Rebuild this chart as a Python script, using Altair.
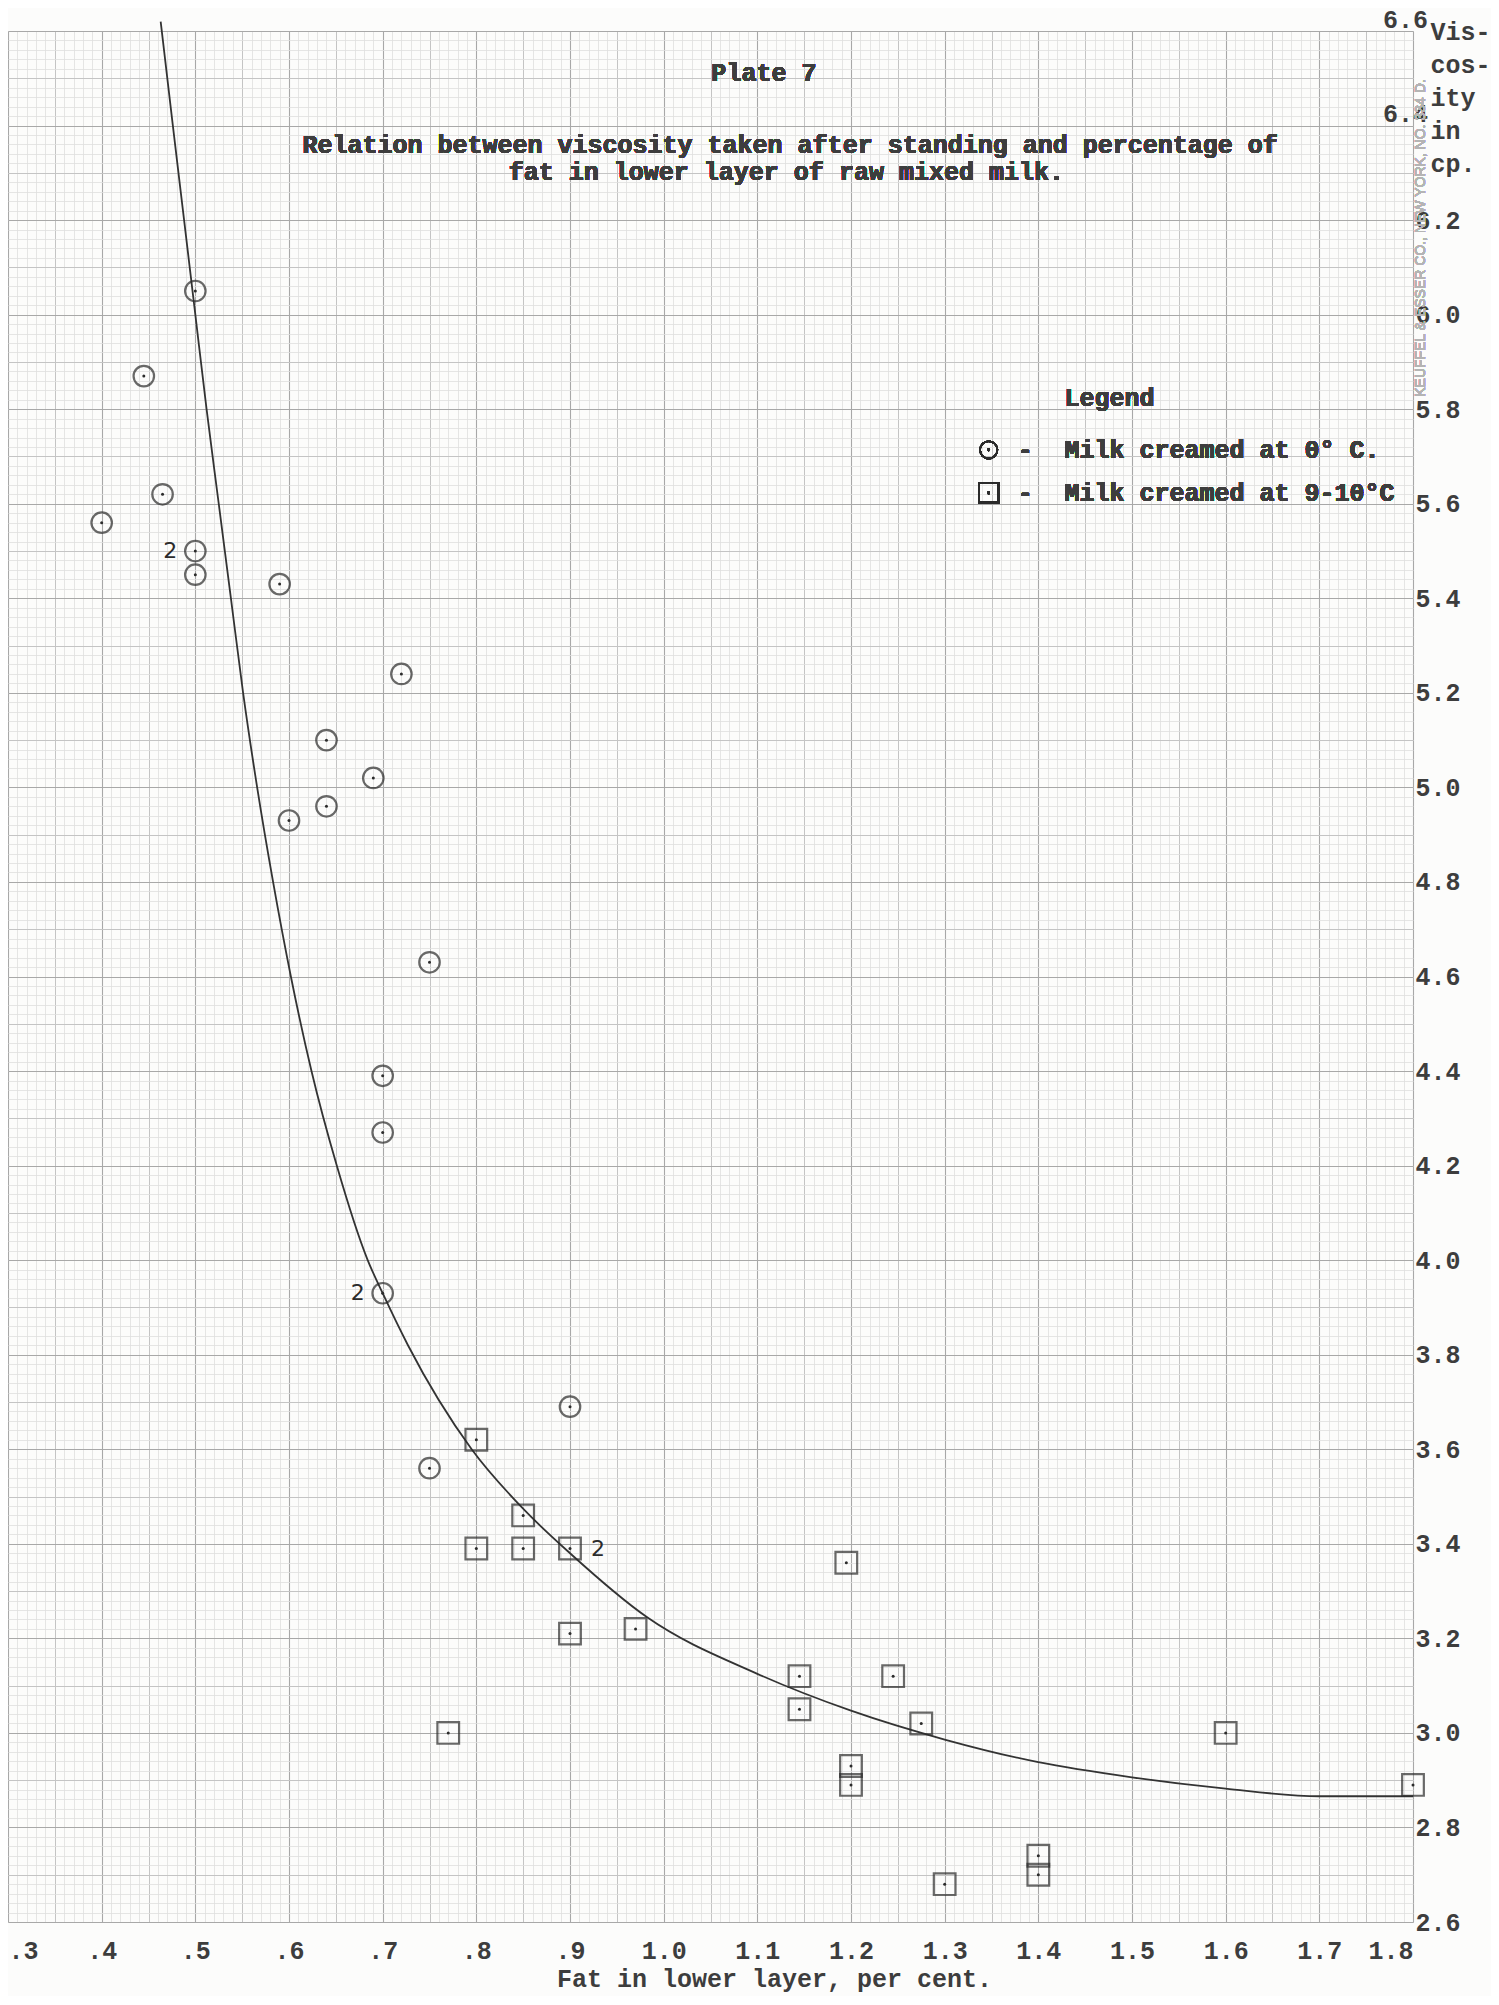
import altair as alt
import pandas as pd

# ---------------- data read from Plate 7 ----------------
# Milk creamed at 0 deg C (circles)
circle_fat = [0.40, 0.445, 0.465, 0.50, 0.50, 0.50, 0.59, 0.60, 0.64, 0.64,
              0.69, 0.72, 0.75, 0.70, 0.70, 0.70, 0.75, 0.90]
circle_visc = [5.56, 5.87, 5.62, 6.05, 5.50, 5.45, 5.43, 4.93, 5.10, 4.96,
               5.02, 5.24, 4.63, 4.39, 4.27, 3.93, 3.56, 3.69]
circle_count = [1, 1, 1, 1, 2, 1, 1, 1, 1, 1,
                1, 1, 1, 1, 1, 2, 1, 1]

# Milk creamed at 9-10 deg C (squares)
square_fat = [0.80, 0.85, 0.80, 0.85, 0.90, 0.90, 0.97, 0.77, 1.145, 1.145,
              1.195, 1.245, 1.275, 1.20, 1.20, 1.30, 1.40, 1.40, 1.60, 1.80]
square_visc = [3.62, 3.46, 3.39, 3.39, 3.39, 3.21, 3.22, 3.00, 3.12, 3.05,
               3.36, 3.12, 3.02, 2.93, 2.89, 2.68, 2.74, 2.70, 3.00, 2.89]
square_count = [1, 1, 1, 1, 2, 1, 1, 1, 1, 1,
                1, 1, 1, 1, 1, 1, 1, 1, 1, 1]

# hand-drawn fitted curve
curve_fat = [0.463, 0.476, 0.488, 0.500, 0.512, 0.525, 0.538, 0.551, 0.566,
             0.583, 0.602, 0.624, 0.651, 0.684, 0.700, 0.727, 0.795, 0.852,
             0.900, 0.982, 1.10, 1.20, 1.30, 1.40, 1.50, 1.60, 1.70, 1.80]
curve_visc = [6.62, 6.40, 6.20, 6.00, 5.80, 5.60, 5.40, 5.20, 5.00,
              4.80, 4.60, 4.40, 4.20, 4.00, 3.93, 3.82, 3.60, 3.47,
              3.38, 3.245, 3.125, 3.047, 2.986, 2.938, 2.906, 2.882, 2.866, 2.866]

# tick labels / graph-paper rulings
x_ticks = [0.3, 0.4, 0.5, 0.6, 0.7, 0.8, 0.9, 1.0, 1.1, 1.2, 1.3, 1.4, 1.5, 1.6, 1.7, 1.8]
y_ticks = [2.6, 2.8, 3.0, 3.2, 3.4, 3.6, 3.8, 4.0, 4.2, 4.4, 4.6, 4.8, 5.0,
           5.2, 5.4, 5.6, 5.8, 6.0, 6.2, 6.4, 6.6]
x_mid = [round(0.30 + 0.05 * i, 3) for i in range(31)]
y_mid = [round(2.6 + 0.1 * i, 3) for i in range(41)]
x_fine = [round(0.30 + 0.01 * i, 3) for i in range(151)]
y_fine = [round(2.6 + 0.02 * i, 3) for i in range(201)]

title_lines = ["Plate 7",
               "Relation between viscosity taken after standing and percentage of",
               "fat in lower layer of raw mixed milk."]
legend_labels = ["Milk creamed at 0\u00b0 C.", "Milk creamed at 9-10\u00b0C"]
y_title = ["Vis-", "cos-", "ity", "\u00a0in", "\u00a0cp."]
x_title = "Fat in lower layer, per cent."
maker = "KEUFFEL & ESSER CO., NEW YORK, NO. 334 D."

circles = pd.DataFrame({"fat": circle_fat, "visc": circle_visc, "n": circle_count})
squares = pd.DataFrame({"fat": square_fat, "visc": square_visc, "n": square_count})
curve = pd.DataFrame({"fat": curve_fat, "visc": curve_visc})

# ---------------- styling ----------------
FONT = "Liberation Mono"
INK = "#3d3d3d"
PEN = "#2b2b2b"
W, H = 1405, 1891

xs = alt.Scale(domain=[0.3, 1.8], nice=False, zero=False)
ys = alt.Scale(domain=[2.6, 6.6], nice=False, zero=False)


def grid_layer(xv, yv, color, width):
    return alt.Chart(curve).mark_point(opacity=0).encode(
        x=alt.X("fat:Q", scale=xs, axis=alt.Axis(
            values=xv, grid=True, gridColor=color, gridWidth=width,
            labels=False, ticks=False, domain=False, title=None, orient="bottom")),
        y=alt.Y("visc:Q", scale=ys, axis=alt.Axis(
            values=yv, grid=True, gridColor=color, gridWidth=width,
            labels=False, ticks=False, domain=False, title=None, orient="right")),
    )


fine = grid_layer(x_fine, y_fine, "#dedede", 0.8)
mid = grid_layer(x_mid, y_mid, "#c4c4c4", 1)

major = alt.Chart(curve).mark_point(opacity=0).encode(
    x=alt.X("fat:Q", scale=xs, axis=alt.Axis(
        values=x_ticks, grid=True, gridColor="#a8a8a8", gridWidth=1.1,
        ticks=False, domain=False, labelFlush=True,
        labelExpr="datum.value < 0.95 ? replace(format(datum.value, '.1f'), '0.', '.') : format(datum.value, '.1f')",
        labelFont=FONT, labelFontSize=25, labelFontWeight="bold", labelColor=INK,
        labelPadding=28, labelBaseline="middle",
        title=x_title, titleFont=FONT, titleFontSize=25, titleFontWeight="bold",
        titleColor=INK, titleX=766, titleY=64, titleAlign="center",
        titleBaseline="alphabetic", orient="bottom")),
    y=alt.Y("visc:Q", scale=ys, axis=alt.Axis(
        values=y_ticks, grid=True, gridColor="#a8a8a8", gridWidth=1.1,
        ticks=False, domain=False, format=".1f",
        labelFont=FONT, labelFontSize=25, labelFontWeight="bold", labelColor=INK,
        labelBaseline="middle",
        labelPadding={"condition": {"test": "datum.value > 6.3", "value": -8}, "value": 2},
        labelAlign={"condition": {"test": "datum.value > 6.3", "value": "center"}, "value": "left"},
        labelOffset={"condition": {"test": "datum.value > 6.3", "value": -12}, "value": 0},
        title=y_title, titleFont=FONT, titleFontSize=25, titleFontWeight="bold",
        titleColor=INK, titleAngle=0, titleAlign="left", titleBaseline="top",
        titleX=17, titleY=-12, titleLineHeight=33, orient="right")),
)

X = lambda: alt.X("fat:Q", scale=xs, axis=None)
Y = lambda: alt.Y("visc:Q", scale=ys, axis=None)

line = alt.Chart(curve).mark_line(color="#333333", strokeWidth=1.8, interpolate="monotone").encode(
    x=X(), y=Y())

circ = alt.Chart(circles).mark_point(shape="circle", size=420, filled=False,
                                     color=PEN, strokeWidth=2.2).encode(x=X(), y=Y())
circ_dot = alt.Chart(circles).mark_point(shape="circle", size=9, filled=True,
                                         color=PEN, opacity=1).encode(x=X(), y=Y())
circ_n = alt.Chart(circles).transform_filter("datum.n > 1").mark_text(
    dx=-25, font="DejaVu Sans", fontSize=22, color=PEN).encode(
    x=X(), y=Y(), text="n:Q")

sq = alt.Chart(squares).mark_point(shape="square", size=470, filled=False,
                                   color=PEN, strokeWidth=2.2).encode(x=X(), y=Y())
sq_dot = alt.Chart(squares).mark_point(shape="circle", size=9, filled=True,
                                       color=PEN, opacity=1).encode(x=X(), y=Y())
sq_n = alt.Chart(squares).transform_filter("datum.n > 1").mark_text(
    dx=28, font="DejaVu Sans", fontSize=22, color=PEN).encode(
    x=X(), y=Y(), text="n:Q")

tkw = dict(font=FONT, fontSize=25, fontWeight="bold", color=INK)


def pos(x, y):
    return dict(x=alt.datum(x, scale=xs, axis=None), y=alt.datum(y, scale=ys, axis=None))


def text_at(txt, x, y, align="center", **kw):
    opts = dict(tkw)
    opts.update(kw)
    return alt.Chart(curve).mark_text(text=txt, align=align, baseline="middle", **opts).encode(
        **pos(x, y))


t0 = text_at(title_lines[0], 1.107, 6.511)
t1 = text_at(title_lines[1], 1.135, 6.359)
t2 = text_at(title_lines[2], 1.131, 6.302)

lg_title = text_at("Legend", 1.428, 5.824, align="left")
lg1 = text_at(legend_labels[0], 1.428, 5.714, align="left")
lg2 = text_at(legend_labels[1], 1.428, 5.623, align="left")
dash1 = text_at("-", 1.386, 5.714)
dash2 = text_at("-", 1.386, 5.623)


def sym_at(shape, size, x, y, filled=False, sw=1.6):
    return alt.Chart(curve).mark_point(shape=shape, size=size, filled=filled,
                                       color=PEN, strokeWidth=sw, opacity=1).encode(
        **pos(x, y))


lsym1 = sym_at("circle", 300, 1.347, 5.714)
lsym2 = sym_at("square", 380, 1.347, 5.623)
ldot1 = sym_at("circle", 7, 1.347, 5.714, filled=True)
ldot2 = sym_at("circle", 7, 1.347, 5.623, filled=True)

stamp = alt.Chart(curve).mark_text(text=maker, angle=270, font="Liberation Sans",
                                   fontSize=14, color="#b4b4b4", align="center",
                                   baseline="middle").encode(**pos(1.809, 6.162))

chart = alt.layer(
    fine, mid, major, stamp,
    line, circ, circ_dot, circ_n, sq, sq_dot, sq_n,
    t0, t1, t2, lg_title, lg1, lg2, dash1, dash2, lsym1, lsym2, ldot1, ldot2,
).resolve_axis(x="independent", y="independent").properties(
    width=W, height=H,
    autosize=alt.AutoSizeParams(type="none"),
    padding={"left": 0, "top": 23, "right": 78, "bottom": 74},
    background="#fcfcfb",
).configure_view(stroke=None)

chart.save("out.html", embed_options={"renderer": "svg", "actions": False})
